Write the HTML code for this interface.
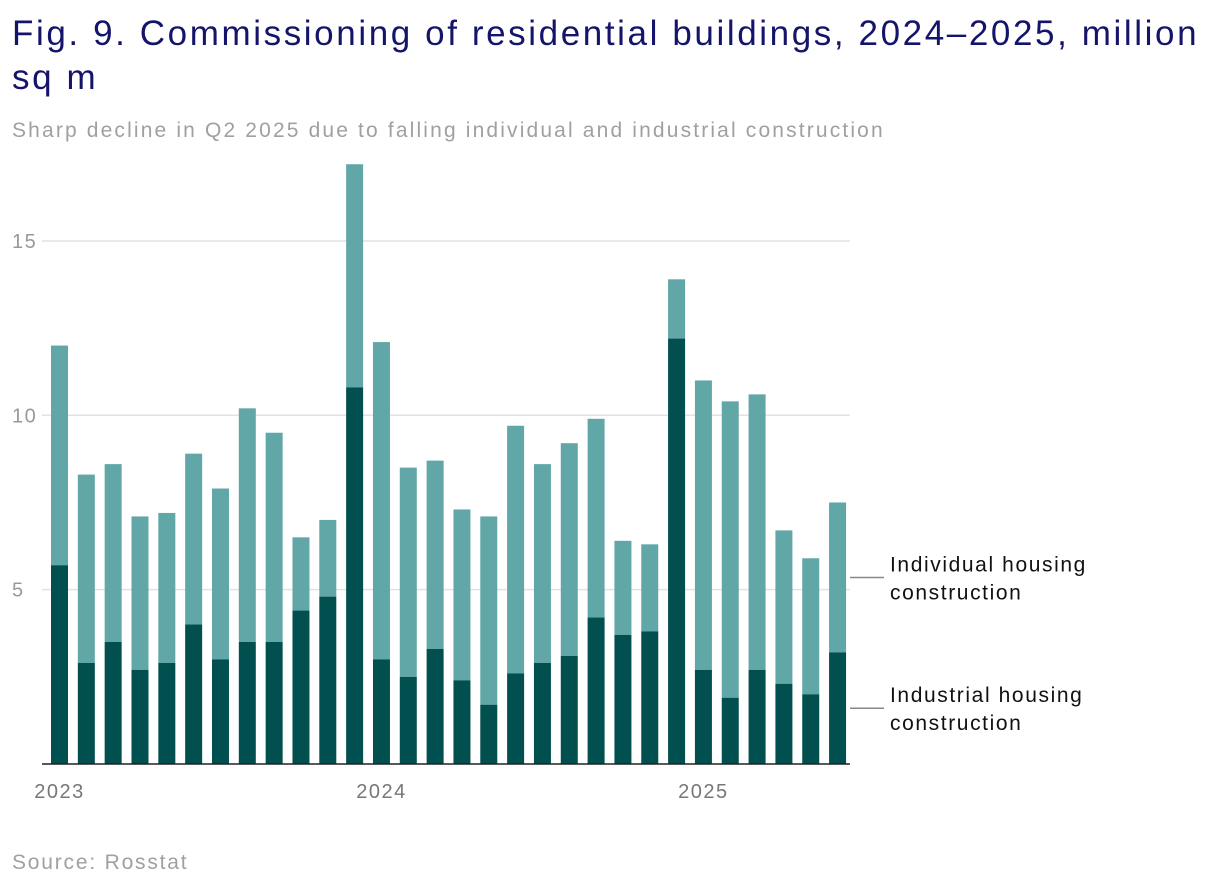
<!DOCTYPE html>
<html><head><meta charset="utf-8">
<style>
body{margin:0;background:#fff;width:1220px;height:888px;overflow:hidden;font-family:"Liberation Sans",sans-serif;}
#title{position:absolute;left:12px;top:12px;font-size:35px;line-height:44px;color:#14146b;width:1210px;letter-spacing:2.6px;white-space:nowrap;}
#subtitle{position:absolute;left:12px;top:119px;font-size:21px;color:#a0a0a0;letter-spacing:2.15px;white-space:nowrap;}
#source{position:absolute;left:12px;top:851px;font-size:21px;color:#a0a0a0;letter-spacing:1.8px;}
svg{position:absolute;left:0;top:0;}
</style></head><body>
<div id="title">Fig. 9. Commissioning of residential buildings, 2024–2025, million<br>sq m</div>
<div id="subtitle">Sharp decline in Q2 2025 due to falling individual and industrial construction</div>
<div id="source">Source: Rosstat</div>
<svg id="chart" width="1220" height="888"></svg>
<script>
const totals=[12.0,8.3,8.6,7.1,7.2,8.9,7.9,10.2,9.5,6.5,7.0,17.2,12.1,8.5,8.7,7.3,7.1,9.7,8.6,9.2,9.9,6.4,6.3,13.9,11.0,10.4,10.6,6.7,5.9,7.5];
const industrial=[5.7,2.9,3.5,2.7,2.9,4.0,3.0,3.5,3.5,4.4,4.8,10.8,3.0,2.5,3.3,2.4,1.7,2.6,2.9,3.1,4.2,3.7,3.8,12.2,2.7,1.9,2.7,2.3,2.0,3.2];
const yTicks=[5,10,15];
const yearLabels=["2023","2024","2025"];
const yearIdx=[0,12,24];
const NS="http://www.w3.org/2000/svg";
const svg=document.getElementById('chart');
const y=v=>764-v*34.87;
const xb=i=>51+i*26.83;
const bw=17;
function mk(t,a){const e=document.createElementNS(NS,t);for(const k in a)e.setAttribute(k,a[k]);svg.appendChild(e);return e;}
yTicks.forEach(t=>{
  const l=mk('line',{x1:42,x2:850,y1:y(t),y2:y(t),stroke:'#e2e2e2','stroke-width':1.5});
  
  
  const tx=mk('text',{x:12,y:y(t)+7,'font-size':20,fill:'#999','letter-spacing':1.5});tx.textContent=t;
  
  
});
totals.forEach((tot,i)=>{
  const ind=industrial[i];
  const r1=mk('rect',{x:xb(i),width:bw,y:y(tot),height:y(ind)-y(tot),fill:'#62a7a7'});
  
  
  const r2=mk('rect',{x:xb(i),width:bw,y:y(ind),height:764-y(ind),fill:'#024f4f'});
  
  
});
const ax=mk('line',{x1:42,x2:850,y1:764,y2:764,stroke:'#222','stroke-width':1.5});


yearLabels.forEach((s,k)=>{
  const t=mk('text',{x:xb(yearIdx[k])+bw/2,y:798,'font-size':20,fill:'#777','text-anchor':'middle','letter-spacing':1.5});t.textContent=s;
  
  
});
const last=totals.length-1;
const legY1=y((totals[last]+industrial[last])/2), legY2=y(industrial[last]/2);
[[legY1,'Individual housing','construction','legend-individual'],[legY2,'Industrial housing','construction','legend-industrial']].forEach(([ly,a,b,n])=>{
  const l=mk('line',{x1:850,x2:884,y1:ly,y2:ly,stroke:'#888','stroke-width':1.5});
  
  
  const t=mk('text',{x:890,y:ly-6,'font-size':21,fill:'#111','letter-spacing':1.6});
  
  
  const s1=document.createElementNS(NS,'tspan');s1.setAttribute('x',890);s1.textContent=a;t.appendChild(s1);
  const s2=document.createElementNS(NS,'tspan');s2.setAttribute('x',890);s2.setAttribute('dy',28);s2.textContent=b;t.appendChild(s2);
});
</script>
</body></html>
